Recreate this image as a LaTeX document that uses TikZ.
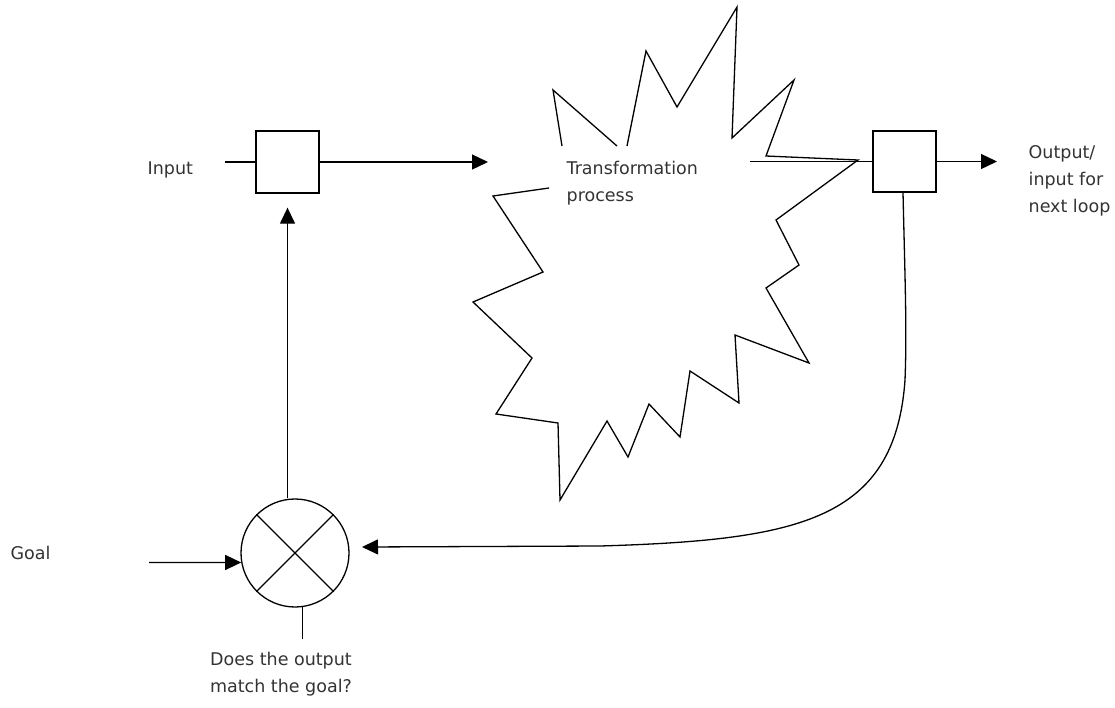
\documentclass[tikz,border=0pt]{standalone}
\usepackage{fontspec}
\setmainfont{DejaVu Sans}
\usetikzlibrary{arrows.meta}
\definecolor{txt}{HTML}{333333}
\begin{document}
\begin{tikzpicture}[x=1pt,y=-1pt,line width=1.3pt,
  arr/.style={-{Triangle[length=16pt,width=15pt]}},
  blk/.style={draw,rectangle,inner sep=0pt,minimum width=63pt,minimum height=62pt},
  lbl/.style={inner sep=0pt,text=txt,font=\fontsize{17.5}{27}\selectfont}]
\useasboundingbox (0,0) rectangle (1115,707);

% starburst
\draw[line join=miter] (562,146) -- (553,90) -- (617,146);
\draw[line join=miter] (627,146) -- (646,51) -- (677,107) -- (737,7) -- (732,138) -- (794,80)
  -- (766,156) -- (858,160) -- (776,220) -- (799,265) -- (766,288) -- (809,363) -- (735,335)
  -- (739,403) -- (690,371) -- (680,437) -- (649,404) -- (628,457) -- (607,421) -- (560,500)
  -- (558,423) -- (496,414) -- (532,358) -- (473,302) -- (543,272) -- (493,196) -- (549,188);

% boxes and comparator
\node[blk] (box1) at (287.5,162) {};
\node[blk,minimum height=61pt] (box2) at (904.5,161.5) {};
\node[draw,circle,inner sep=0pt,minimum size=108pt] (c) at (295,553) {};
\draw (c.45) -- (c.225);
\draw (c.135) -- (c.315);

% coordinates
\coordinate (inStart) at (225,162);
\coordinate (inTip) at (488,162);
\coordinate (innerStart) at (750,161.5);
\coordinate (outTip) at (997,161.5);
\coordinate (goalStart) at (149,562.4);
\coordinate (fbTip) at (362,547);

% connectors
\draw (inStart) -- (box1.west);
\draw[arr] (box1.east) -- (inTip);
\draw (innerStart) -- (box2.west);
\draw[arr] (box2.east) -- (outTip);
\draw[arr,shorten >=14pt] (box1.south |- c.north) -- (box1.south);
\draw[arr] (goalStart) -- (c.190);
\draw (c.278) -- ++(0,32);
\draw[arr] ([xshift=-1.5pt]box2.south) .. controls (905,280) and (907,330) .. (905,380)
  .. controls (895,520) and (800,540) .. (600,546) -- (fbTip);

% labels
\node[lbl,anchor=base west] (tin) at (147,174) {Input};
\node[lbl,anchor=north west,align=left] (ttp) at (566,161) {Transformation\\process};
\node[lbl,anchor=north west,align=left] (tout) at (1028,145) {Output/\\input for\\next loop};
\node[lbl,anchor=base west] (tgoal) at (10,559) {Goal};
\node[lbl,anchor=north,align=center] (tq) at (281,652) {Does the output\\match the goal?};
\end{tikzpicture}
\end{document}
